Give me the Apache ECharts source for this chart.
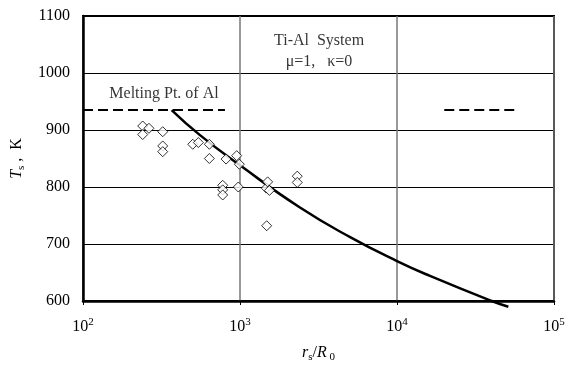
<!DOCTYPE html>
<html>
<head>
<meta charset="utf-8">
<script src="https://cdn.jsdelivr.net/npm/echarts@6/dist/echarts.min.js"></script>
<style>
html,body{margin:0;padding:0;background:#fff;}
#c{width:568px;height:365px;}
</style>
</head>
<body>
<div id="c"></div>
<script>
// Experimental points (r_s/R_0, T_s)
const ptsX = [240, 263, 240, 322, 322, 322, 500, 543, 638, 638, 815, 953, 990, 776, 776, 776, 975, 1470, 1500, 1540, 2316, 2316, 1479];
const ptsY = [907, 903, 892, 897, 872, 862, 875, 878, 875, 850, 849, 855, 840, 803, 795, 786, 800, 798, 809, 794, 819, 808, 732];
// Theoretical curve
const curveX = [367, 556, 1000, 2410, 5030, 10000, 16220, 40100, 51200];
const curveY = [935, 891, 838, 764, 712, 670, 644, 600, 590];
// Melting point of Al (dashed segments)
const meltT = 935;
const meltLeftX = [100, 802];
const meltRightX = [20000, 60000];
// Axis ticks
const xTickValues = [100, 1000, 10000, 100000];
const xTickSup = ['2', '3', '4', '5'];
const yMin = 600, yMax = 1100, yStep = 100;
// Annotations [x, y, text]
const noteX = [3187, 3187, 328];
const noteY = [1056, 1019, 963];
const noteText = ['Ti-Al  System', '\u03bc=1,   \u03ba=0', 'Melting Pt. of Al'];

const F = '"Liberation Serif", "Times New Roman", serif';
const chart = echarts.init(document.getElementById('c'));

const pair = (xs, ys) => xs.map((x, i) => [x, ys[i]]);

chart.setOption({
  animation: false,
  backgroundColor: '#fff',
  grid: { left: 83, right: 14, top: 16, bottom: 64, show: true, borderColor: '#000', borderWidth: 2,
          containLabel: false, outerBoundsMode: 'none' },
  xAxis: {
    type: 'log', logBase: 10, min: 100, max: 100000,
    name: '{i|r}{sub|s}{n|/}{i|R}{sub| 0}',
    nameLocation: 'middle', nameGap: 42,
    nameTextStyle: {
      rich: {
        i: { fontFamily: F, fontSize: 16, fontStyle: 'italic', color: '#000', lineHeight: 20 },
        n: { fontFamily: F, fontSize: 16, color: '#000', lineHeight: 20 },
        sub: { fontFamily: F, fontSize: 11, color: '#000', verticalAlign: 'bottom', lineHeight: 14 }
      }
    },
    axisLine: { show: true, lineStyle: { color: '#000', width: 2.5 } },
    axisTick: { show: true, inside: false, length: 4, lineStyle: { color: '#000', width: 1 } },
    minorTick: { show: false },
    splitLine: { show: true, lineStyle: { color: '#777', width: 1.5 } },
    axisLabel: {
      margin: 16,
      formatter: function (v) {
        const idx = xTickValues.findIndex(t => Math.abs(t - v) / t < 1e-6);
        if (idx < 0) return '';
        return '{b|10}{s|' + xTickSup[idx] + '}';
      },
      rich: {
        b: { fontFamily: F, fontSize: 16, color: '#000', lineHeight: 20 },
        s: { fontFamily: F, fontSize: 11, color: '#000', verticalAlign: 'top', lineHeight: 12 }
      }
    }
  },
  yAxis: {
    type: 'value', min: yMin, max: yMax, interval: yStep,
    name: '{i|T}{sub|s}{n| ,  K}',
    nameLocation: 'middle', nameGap: 55, nameRotate: 90,
    nameTextStyle: {
      rich: {
        i: { fontFamily: F, fontSize: 16, fontStyle: 'italic', color: '#000', lineHeight: 20 },
        n: { fontFamily: F, fontSize: 16, color: '#000', lineHeight: 20 },
        sub: { fontFamily: F, fontSize: 11, color: '#000', verticalAlign: 'bottom', lineHeight: 14 }
      }
    },
    axisLine: { show: true, lineStyle: { color: '#000', width: 2.5 } },
    axisTick: { show: false },
    splitLine: { show: true, lineStyle: { color: '#000', width: 1 } },
    axisLabel: { margin: 13, fontFamily: F, fontSize: 16, color: '#000', formatter: v => String(v) }
  },
  series: [
    {
      type: 'line', data: pair(meltLeftX, meltLeftX.map(() => meltT)),
      symbol: 'none', silent: true, z: 3,
      lineStyle: { color: '#000', width: 2, type: [10, 5] }
    },
    {
      type: 'line', data: pair(meltRightX, meltRightX.map(() => meltT)),
      symbol: 'none', silent: true, z: 3,
      lineStyle: { color: '#000', width: 2, type: [10, 5] }
    },
    {
      type: 'line', data: pair(curveX, curveY), smooth: 0.5, clip: false,
      symbol: 'none', z: 4,
      lineStyle: { color: '#000', width: 2.5 }
    },
    {
      type: 'scatter', data: pair(ptsX, ptsY), z: 5,
      symbol: 'diamond', symbolSize: 10,
      itemStyle: { color: '#fff', borderColor: '#000', borderWidth: 1 }
    },
    {
      type: 'scatter', z: 6, symbolSize: 0, silent: true,
      data: noteX.map((x, i) => ({ value: [x, noteY[i]], name: noteText[i] })),
      label: {
        show: true, position: 'inside', formatter: p => p.name,
        fontFamily: F, fontSize: 16, color: '#000'
      }
    }
  ]
});
</script>
</body>
</html>
